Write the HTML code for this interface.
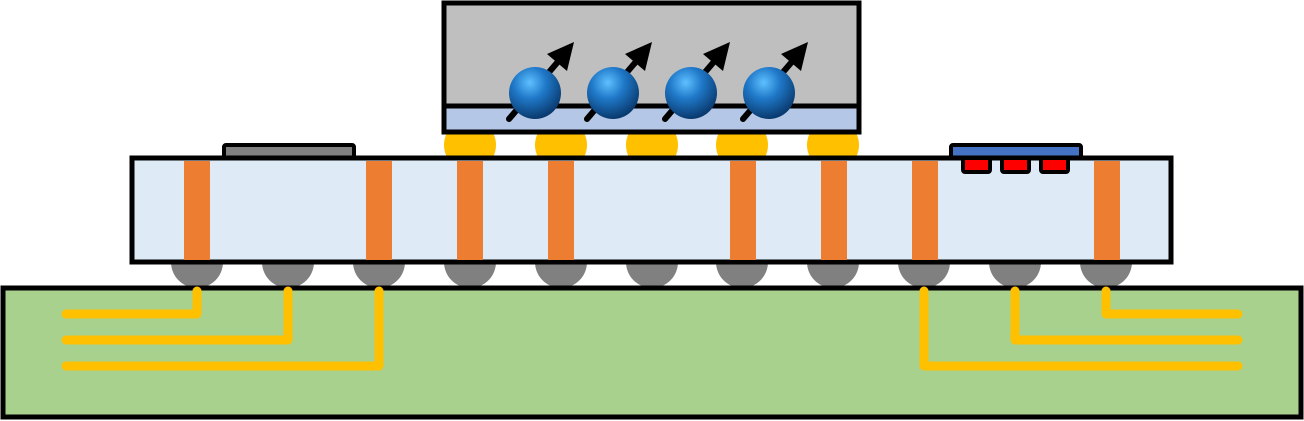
<!DOCTYPE html>
<html><head><style>html,body{margin:0;padding:0;background:#fff}svg{display:block}</style></head>
<body>
<svg width="1304" height="421" viewBox="0 0 1304 421" xmlns="http://www.w3.org/2000/svg">
<defs>
<radialGradient id="sg" cx="0.4" cy="0.3" r="0.7">
<stop offset="0" stop-color="#5ec0ff"/>
<stop offset="0.45" stop-color="#1f78c8"/>
<stop offset="1" stop-color="#0a3a6e"/>
</radialGradient>
<clipPath id="bc"><rect x="0" y="262" width="1304" height="25"/></clipPath>
<clipPath id="mc"><rect x="0" y="132" width="1304" height="26"/></clipPath>
</defs>
<g fill="#808080" clip-path="url(#bc)">
<circle cx="197" cy="262" r="26"/><circle cx="288" cy="262" r="26"/><circle cx="379" cy="262" r="26"/>
<circle cx="470" cy="262" r="26"/><circle cx="561" cy="262" r="26"/><circle cx="652" cy="262" r="26"/>
<circle cx="742" cy="262" r="26"/><circle cx="833" cy="262" r="26"/><circle cx="924" cy="262" r="26"/>
<circle cx="1015" cy="262" r="26"/><circle cx="1106" cy="262" r="26"/>
</g>
<rect x="3" y="288" width="1298" height="129" fill="#a9d18e" stroke="#000" stroke-width="5"/>
<g fill="none" stroke="#ffc000" stroke-width="9" stroke-linejoin="round" stroke-linecap="round">
<polyline points="197,291 197,314 66,314"/>
<polyline points="288,291 288,340 66,340"/>
<polyline points="379,291 379,366 66,366"/>
<polyline points="924,291 924,366 1238,366"/>
<polyline points="1015,291 1015,340 1238,340"/>
<polyline points="1106,291 1106,314 1238,314"/>
</g>
<g fill="#ffc000" clip-path="url(#mc)">
<circle cx="470" cy="145" r="26"/><circle cx="561" cy="145" r="26"/>
<circle cx="652" cy="145" r="26"/><circle cx="742" cy="145" r="26"/>
<circle cx="833" cy="145" r="26"/>
</g>
<rect x="224" y="145" width="130" height="14" fill="#808080" stroke="#000" stroke-width="4" rx="2"/>
<rect x="951" y="145" width="130" height="14" fill="#4472c4" stroke="#000" stroke-width="4" rx="2"/>
<rect x="132" y="158" width="1039" height="104" fill="#deebf7" stroke="#000" stroke-width="5"/>
<g fill="#ed7d31">
<rect x="184" y="161" width="26" height="99"/><rect x="366" y="161" width="26" height="99"/>
<rect x="457" y="161" width="26" height="99"/><rect x="548" y="161" width="26" height="99"/>
<rect x="730" y="161" width="26" height="99"/><rect x="821" y="161" width="26" height="99"/>
<rect x="912" y="161" width="26" height="99"/><rect x="1094" y="161" width="26" height="99"/>
</g>
<g fill="#ff0000" stroke="#000" stroke-width="4">
<rect x="963" y="158" width="27" height="14" rx="2"/>
<rect x="1002" y="158" width="27" height="14" rx="2"/>
<rect x="1041" y="158" width="27" height="14" rx="2"/>
</g>
<rect x="444" y="3" width="415" height="103" fill="#bfbfbf" stroke="#000" stroke-width="5"/>
<rect x="444" y="106" width="415" height="26" fill="#b4c7e7" stroke="#000" stroke-width="5"/>
<g id="s">
<line x1="509" y1="119" x2="562" y2="57" stroke="#000" stroke-width="6" stroke-linecap="round"/>
<polygon points="574,42 567,71 547,54" fill="#000"/>
<circle cx="535" cy="93" r="26" fill="url(#sg)"/>
</g>
<use href="#s" x="78"/>
<use href="#s" x="156"/>
<use href="#s" x="234"/>
</svg>
</body></html>
